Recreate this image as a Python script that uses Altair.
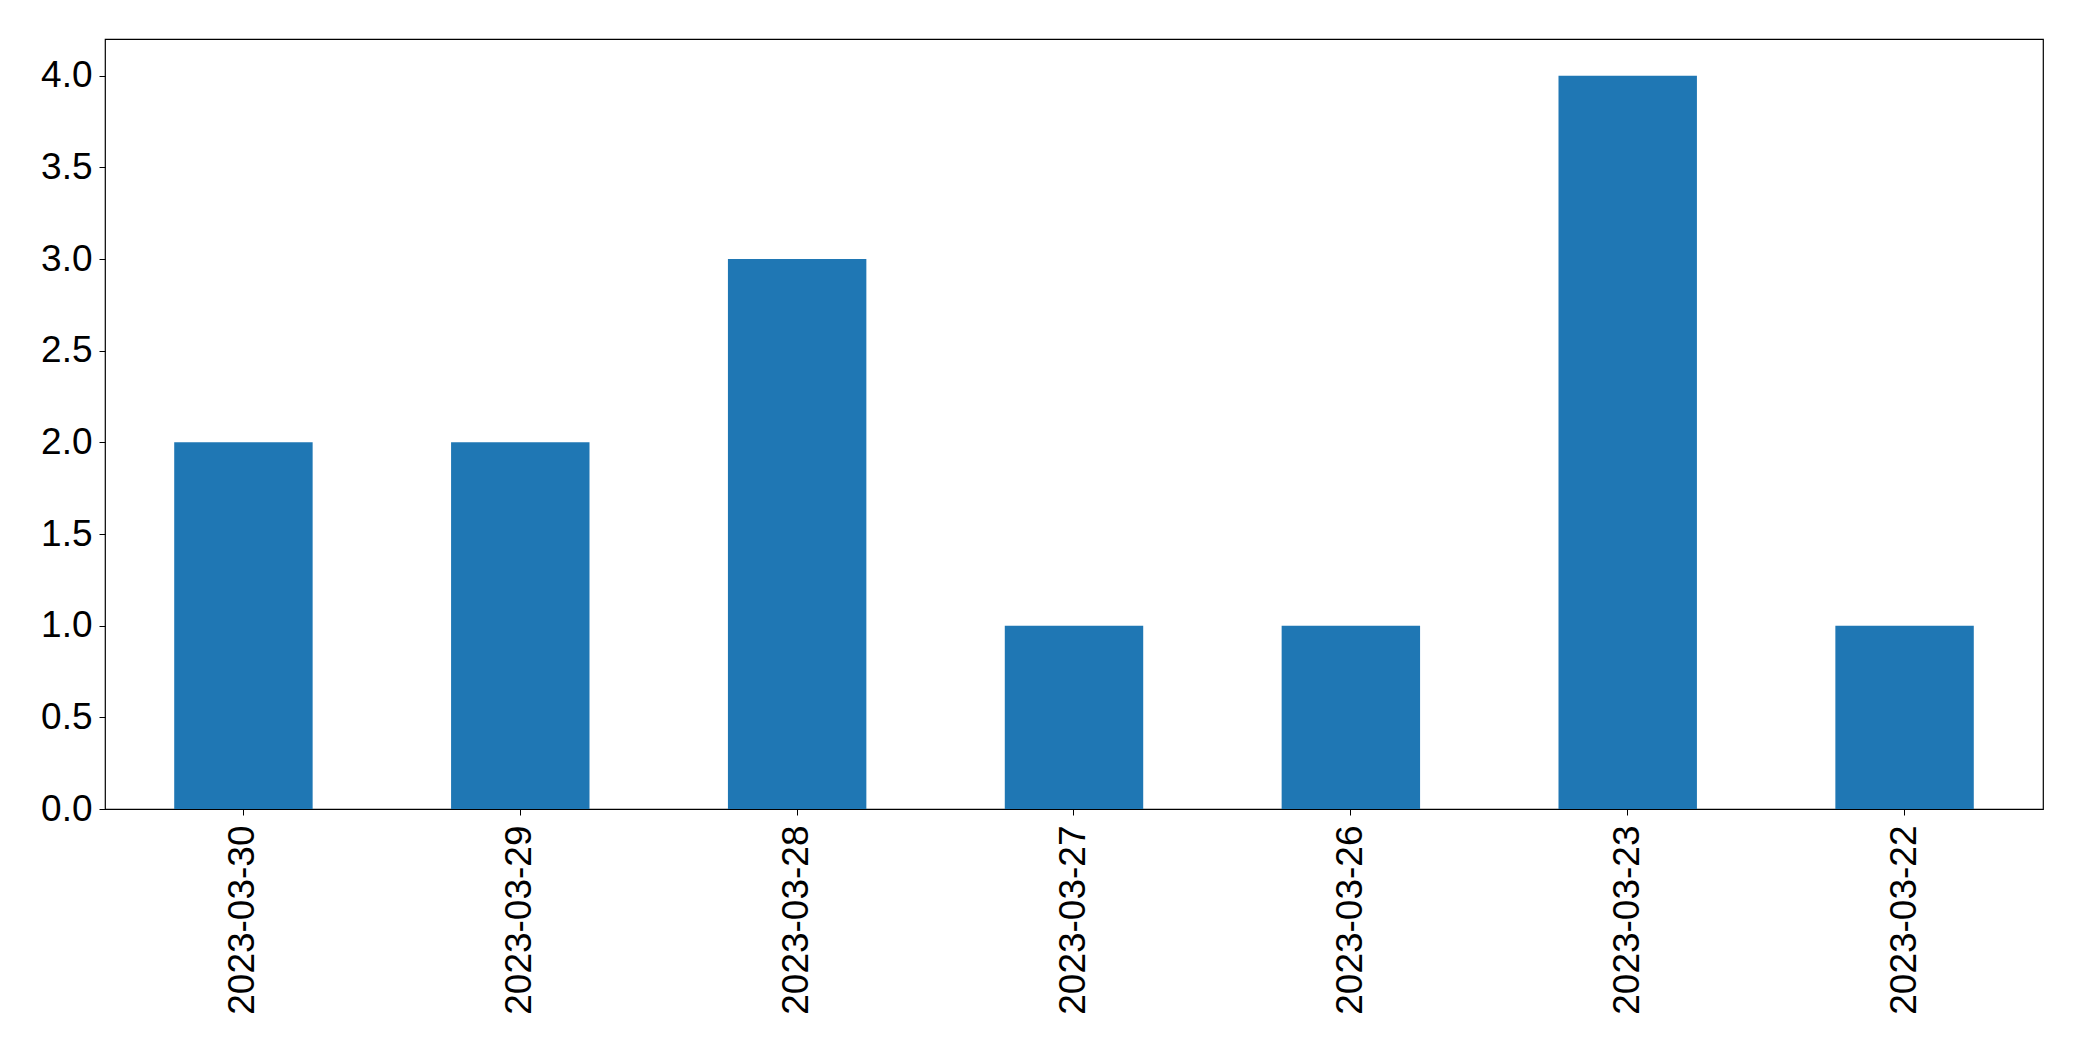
import altair as alt
import pandas as pd

dates = ["2023-03-30", "2023-03-29", "2023-03-28", "2023-03-27", "2023-03-26", "2023-03-23", "2023-03-22"]
counts = [2, 2, 3, 1, 1, 4, 1]
y_ticks = [0.0, 0.5, 1.0, 1.5, 2.0, 2.5, 3.0, 3.5, 4.0]

df = pd.DataFrame({"date": dates, "count": counts})

FONT = "Liberation Sans"
FS = 37

chart = alt.Chart(df).mark_bar(color="#1f77b4").encode(
    x=alt.X("date:N", sort=dates, title=None,
            scale=alt.Scale(paddingInner=0.5, paddingOuter=0.25),
            axis=alt.Axis(labelAngle=270, labelFont=FONT, labelFontSize=FS, labelLimit=0,
                          labelColor="black", tickColor="black", tickSize=6,
                          tickWidth=1, labelPadding=10, domain=False, grid=False)),
    y=alt.Y("count:Q", title=None,
            scale=alt.Scale(domain=[0, 4.2], nice=False, zero=True),
            axis=alt.Axis(values=y_ticks, format=".1f", labelFont=FONT, labelFontSize=FS,
                          labelColor="black", tickColor="black", tickSize=6,
                          tickWidth=1, labelPadding=7, domain=False, grid=False)),
).properties(
    width=1938, height=770,
    autosize=alt.AutoSizeParams(type="none"),
    padding={"left": 97, "top": 31, "right": 30, "bottom": 240},
).configure(
    background="white"
).configure_view(
    stroke="black", strokeWidth=1.2
)

chart.save("out.html", embed_options={"renderer": "svg", "actions": False})
